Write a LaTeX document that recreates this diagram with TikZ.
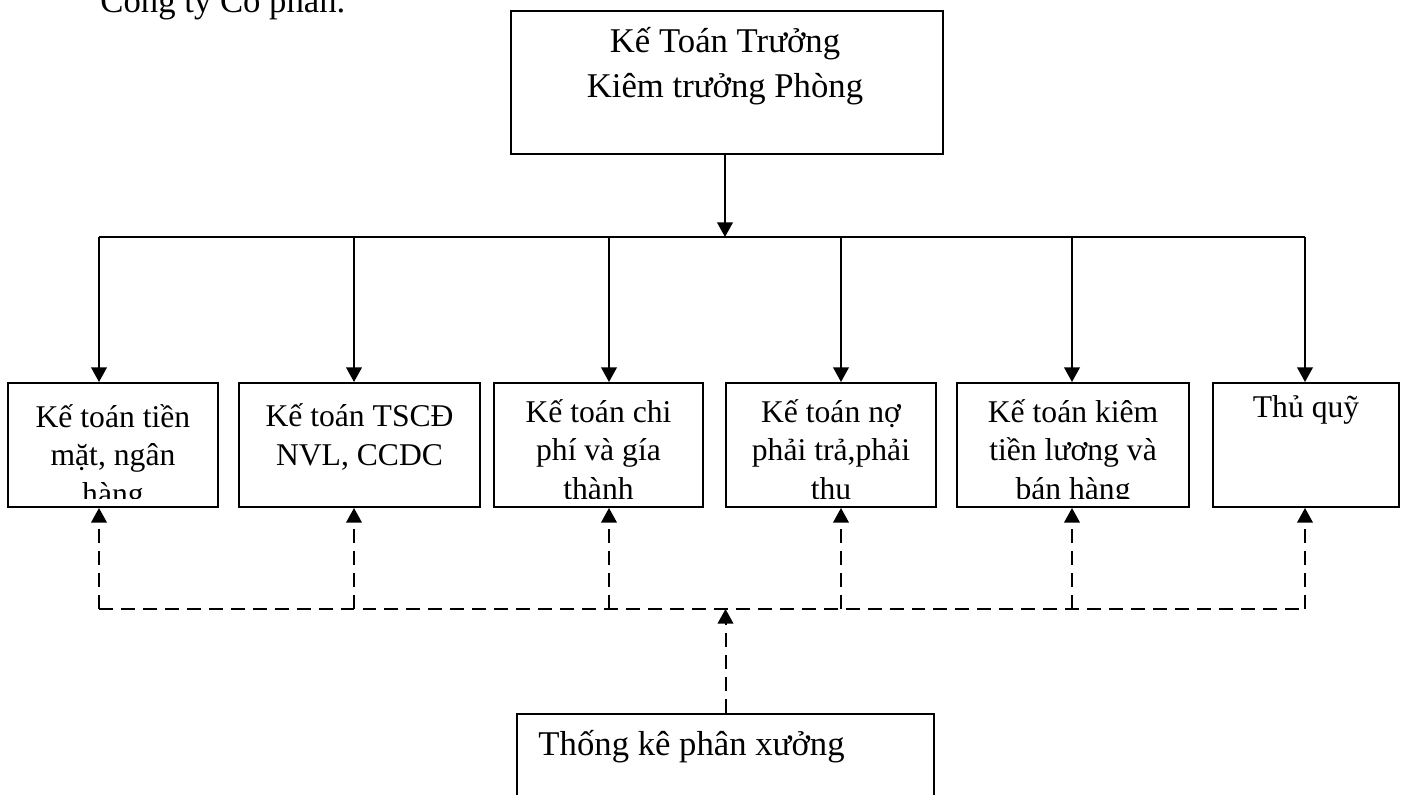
\documentclass[tikz,border=0pt]{standalone}
\usepackage{fontspec}
\setmainfont{Liberation Serif}
\usetikzlibrary{arrows.meta,positioning,calc}

\begin{document}
\begin{tikzpicture}[
  x=0.4235pt, y=-0.4235pt,
  box/.style={rectangle,draw=black,line width=0.85pt,inner sep=0pt,anchor=north west,minimum height=52.5pt},
  lbl/.style={font=\fontsize{13.4}{16.3}\selectfont,align=center,anchor=base,inner sep=0pt},
  big/.style={font=\fontsize{14.7}{19}\selectfont},
  arr/.style={-{Triangle[length=6.2pt,width=6.6pt]},line width=0.85pt},
  darr/.style={arr,dash pattern=on 5.9pt off 3.4pt}
]
\useasboundingbox (0,0) rectangle (1403,794);
\clip (0,0) rectangle (1403,794);

% heading line, cut by the page top
\node[big,anchor=base west,inner sep=0pt] (cty) at (100,12) {Công ty Cổ phần.};

% chief accountant (base = last line)
\node[box,minimum width=182.9pt,minimum height=60.6pt] (ktt) at (510,10) {};
\node[lbl,big] (ktt-t) at (725,97) {Kế Toán Trưởng\\Kiêm trưởng Phòng};

% accountants
\node[box,minimum width=88.9pt] (kt1) at (7,382) {};
\node[box,minimum width=102.1pt] (kt2) at (238,382) {};
\node[box,minimum width=88.5pt] (kt3) at (493,382) {};
\node[box,minimum width=88.9pt] (kt4) at (725,382) {};
\node[box,minimum width=98.3pt] (kt5) at (956,382) {};
\node[box,minimum width=78.8pt] (kt6) at (1212,382) {};

\foreach \n/\by/\txt in {kt1/504/{Kế toán tiền\\mặt, ngân\\hàng},
    kt2/465/{Kế toán TSCĐ\\NVL, CCDC},
    kt3/499/{Kế toán chi\\phí và gía\\thành},
    kt4/499/{Kế toán nợ\\phải trả,phải\\thu},
    kt5/499/{Kế toán kiêm\\tiền lương và\\bán hàng},
    kt6/417/{Thủ quỹ}}{
  \begin{scope}
    \clip (\n.north west) rectangle ($(\n.south east)+(0,-9)$);
    \node[lbl] (t-\n) at ($(\n.north)+(0,{\by-382})$) {\txt};
  \end{scope}
}

% workshop statistics
\node[box,minimum width=176.6pt,minimum height=60pt] (tk) at (516,713) {};
\node[lbl,big,anchor=base west] (tk-t) at (538,755) {Thống kê phân xưởng};

% solid links
\coordinate (a1) at (99,237);
\coordinate (a2) at (354,237);
\coordinate (a3) at (609,237);
\coordinate (a4) at (841,237);
\coordinate (a5) at (1072,237);
\coordinate (a6) at (1305,237);
\draw[arr] (ktt.south -| 725,0) -- (725,237);
\draw[line width=0.85pt] (a1) -- (a6);
\foreach \i in {1,...,6}
  \draw[arr] (a\i) -- (a\i |- kt\i.north);

% dashed links
\coordinate (d1) at (99,609);
\coordinate (d6) at (1305,609);
\draw[line width=0.85pt,dash pattern=on 5.9pt off 3.4pt] (d1) -- (d6);
\foreach \i in {1,...,6}
  \draw[darr] (a\i |- d1) -- (a\i |- kt\i.south);
\draw[darr] (tk.north) -- (tk.north |- d1);
\end{tikzpicture}
\end{document}
